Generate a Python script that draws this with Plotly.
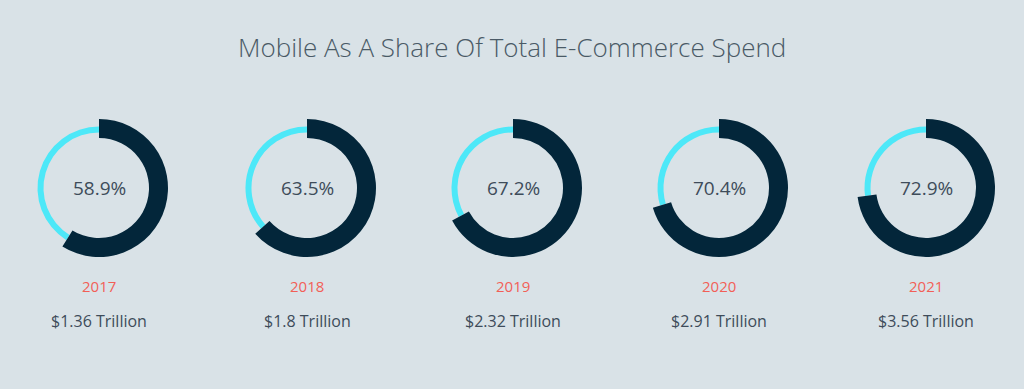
import plotly.graph_objects as go

years = ["2017", "2018", "2019", "2020", "2021"]
mobile_share = [58.9, 63.5, 67.2, 70.4, 72.9]
spend_labels = ["$1.36 Trillion", "$1.8 Trillion", "$2.32 Trillion", "$2.91 Trillion", "$3.56 Trillion"]

W, H = 1024, 389
BG = "#d9e2e7"
DARK = "#03263a"
CYAN = "#4de8f8"
YEAR_COLOR = "#f25f57"
TEXT = "#3e4c5a"
FONT = "Open Sans"

centers_x = [99, 307, 513, 719, 926]
cy = 188
r_dark_out, r_dark_in = 69, 50
r_cyan_out, r_cyan_in = 61.5, 55.5


def dom(cx, r):
    return dict(x=[(cx - r) / W, (cx + r) / W], y=[1 - (cy + r) / H, 1 - (cy - r) / H])


def label(x, y, text, size, color, weight=400):
    fig.add_annotation(x=x / W, y=1 - y / H, xref="paper", yref="paper", text=text,
                       xanchor="center", yanchor="middle", showarrow=False,
                       font=dict(family=FONT, size=size, color=color, weight=weight))


fig = go.Figure()
for i, (yr, s) in enumerate(zip(years, mobile_share)):
    cx = centers_x[i]
    fig.add_trace(go.Pie(
        values=[s, 100 - s], labels=["Mobile", "Other"], sort=False, direction="clockwise",
        rotation=0, hole=r_cyan_in / r_cyan_out, domain=dom(cx, r_cyan_out),
        marker=dict(colors=["rgba(0,0,0,0)", CYAN], line=dict(width=0)),
        textinfo="none", hoverinfo="skip", showlegend=False))
    fig.add_trace(go.Pie(
        values=[s, 100 - s], labels=["Mobile", "Other"], sort=False, direction="clockwise",
        rotation=0, hole=r_dark_in / r_dark_out, domain=dom(cx, r_dark_out),
        marker=dict(colors=[DARK, "rgba(0,0,0,0)"], line=dict(width=0)),
        textinfo="none", hoverinfo="skip", showlegend=False))
    label(cx, cy, f"{s}%", 19, TEXT)
    label(cx, 286, yr, 15, YEAR_COLOR)
    label(cx, 321, spend_labels[i], 16, TEXT)

label(512, 47, "Mobile As A Share Of Total E-Commerce Spend", 26, "#4a5a66", 300)

fig.update_layout(width=W, height=H, margin=dict(l=0, r=0, t=0, b=0),
                  paper_bgcolor=BG, plot_bgcolor=BG)
fig.write_html("out.html", config={"displayModeBar": False},
               post_script="document.body.style.margin='0px';")
